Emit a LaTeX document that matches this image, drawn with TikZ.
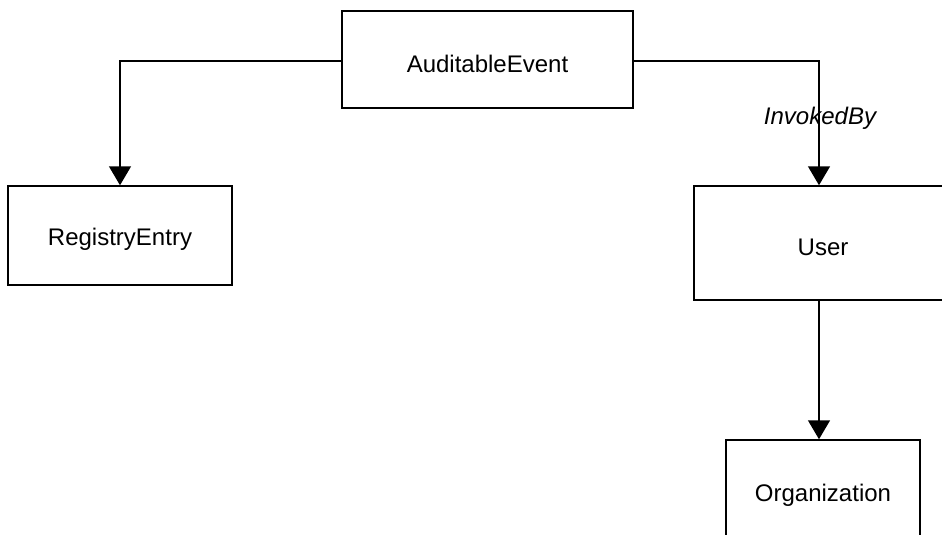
\documentclass[tikz,border=0pt]{standalone}
\usepackage{fontspec}
\setmainfont{Liberation Sans}
\usetikzlibrary{arrows.meta}
\newcommand{\lowtext}[1]{\raisebox{-4pt}[\height][\depth]{#1}}
\begin{document}
\begin{tikzpicture}[x=1pt,y=-1pt,
  box/.style={draw=black,line width=1.5pt,rectangle,inner sep=0pt,font=\fontsize{24}{28}\selectfont},
  conn/.style={draw=black,line width=1.5pt,-{Triangle[width=22pt,length=19pt]}},
  lbl/.style={font=\fontsize{24}{28}\selectfont\itshape}]
\useasboundingbox (0,0) rectangle (942,535);
\clip (0,0) rectangle (942,535);
\fill[white] (0,0) rectangle (942,535);
\node[box,minimum width=291pt,minimum height=97pt] (ae) at (487.5,59.5) {\lowtext{AuditableEvent}};
\node[box,minimum width=224pt,minimum height=99pt] (re) at (120,235.5) {\lowtext{RegistryEntry}};
\node[box,minimum width=258pt,minimum height=114pt] (user) at (823,243) {\lowtext{User}};
\node[box,minimum width=194pt,minimum height=102pt] (org) at (823,491) {\lowtext{Organization}};
\coordinate (ul) at ([xshift=-4pt]user.north);
\coordinate (us) at ([xshift=-4pt,yshift=1pt]user.south);
\coordinate (ol) at ([xshift=-4pt]org.north);
\draw[conn] ([yshift=-1.5pt]ae.west) -| (re.north);
\draw[conn] ([yshift=-1.5pt]ae.east) -| (ul);
\draw[conn] (us) -- (ol);
\node[lbl] (ib) at (820,118) {InvokedBy};
\end{tikzpicture}
\end{document}
